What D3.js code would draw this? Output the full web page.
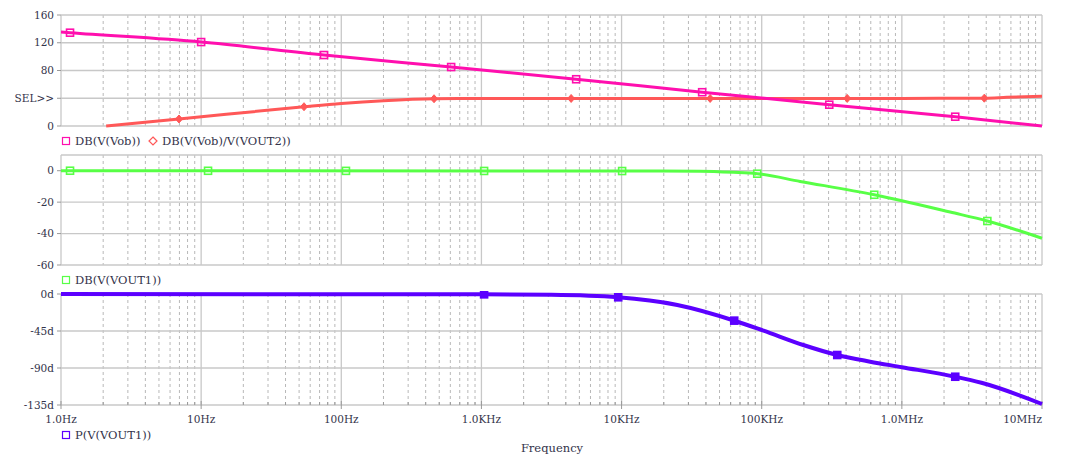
<!DOCTYPE html>
<html><head><meta charset="utf-8">
<script src="https://cdn.jsdelivr.net/npm/d3@7"></script>
<style>
html,body{margin:0;padding:0;background:#fff;}
svg text{font-family:"DejaVu Serif","Times New Roman",Times,"Liberation Serif",serif !important;}
</style></head>
<body>
<svg id="chart" width="1080" height="457"></svg>
<script>
// ---- data ----
const freqTicks = [1, 10, 100, 1e3, 1e4, 1e5, 1e6, 1e7];
const freqLabels = ["1.0Hz", "10Hz", "100Hz", "1.0KHz", "10KHz", "100KHz", "1.0MHz", "10MHz"];

const p1Ticks = [0, 40, 80, 120, 160];
const p1Labels = ["0", "SEL>>", "80", "120", "160"];
const p2Ticks = [-60, -40, -20, 0];
const p2Labels = ["-60", "-40", "-20", "0"];
const p3Ticks = [-135, -90, -45, 0];
const p3Labels = ["-135d", "-90d", "-45d", "0d"];

// DB(V(Vob))
const vobFreq = [1, 1.16, 10, 75.3, 608, 4742, 37580, 303400, 2.404e6, 1e7];
const vobDb   = [135.5, 134.5, 121, 102.3, 85, 67.4, 48.7, 30.7, 13.4, 0];
const vobMarkers = [1.16, 10, 75.3, 608, 4742, 37580, 303400, 2.404e6];

// DB(V(Vob)/V(VOUT2))
const ratioFreq = [2.1, 6.95, 54.2, 100, 200, 459, 1000, 1e4, 1e5, 1e6, 3.87e6, 5.6e6, 1e7];
const ratioDb   = [0, 10.1, 27.8, 32.5, 36.5, 39.3, 39.7, 39.7, 39.7, 39.8, 40.1, 41.3, 43];
const ratioMarkers = [6.95, 54.2, 459, 4365, 42850, 407400, 3.873e6];

// DB(V(VOUT1))
const out1Freq = [1, 1e4, 3.64e4, 6.26e4, 9.29e4, 1.88e5, 6.35e5, 1e6, 2.21e6, 4.07e6, 1e7];
const out1Db   = [0, -0.2, -0.3, -1.0, -1.9, -6.8, -15.3, -19.1, -26.3, -32, -43];
const out1Markers = [1.16, 11.2, 108, 1045, 10090, 92900, 635300, 4.074e6];

// P(V(VOUT1))
const phFreq = [1, 1000, 3160, 9460, 25000, 64000, 103000, 198000, 346000, 594000, 1e6, 2.4e6, 3.7e6, 1e7];
const phDeg  = [0, -0.4, -1.0, -4, -13.4, -32.5, -44.6, -62, -74.2, -82.3, -89, -100.6, -108, -133.8];
const phMarkers = [1045, 9462, 63680, 346000, 2.404e6];

const colPink = "#ff0fae", colRed = "#ff5858", colGreen = "#58ff46", colPurple = "#5c00ff";
const textCol = "#33334a";

// ---- layout ----
const svg = d3.select("#chart");
const X0 = 61, X1 = 1042;
const x = d3.scaleLog().domain([1, 1e7]).range([X0, X1]);
const panels = [
  {y: d3.scaleLinear().domain([0, 160]).range([126, 15]), ticks: p1Ticks, labels: p1Labels},
  {y: d3.scaleLinear().domain([-60, 10]).range([265, 155]), ticks: p2Ticks, labels: p2Labels},
  {y: d3.scaleLinear().domain([-135, 0]).range([405, 294]), ticks: p3Ticks, labels: p3Labels}
];

const minor = [];
for (let d = 0; d < 7; d++) for (let m = 2; m <= 9; m++) minor.push(m * Math.pow(10, d));

function txt(sel, size) {
  return sel.attr("fill", textCol).style("font-size", (size || 11.5) + "px");
}

panels.forEach((p, i) => {
  const [yb, yt] = p.y.range();
  const g = svg.append("g");
  svg.append("clipPath").attr("id", "clip" + i).append("rect")
    .attr("x", X0).attr("y", yt - 3).attr("width", X1 - X0 + 2).attr("height", yb - yt + 6);
  g.selectAll(".mn").data(minor).join("line")
    .attr("x1", d => x(d)).attr("x2", d => x(d)).attr("y1", yt).attr("y2", yb)
    .attr("stroke", "#b8b8b8").attr("stroke-dasharray", "3,3").attr("stroke-width", 1);
  g.selectAll(".mj").data(freqTicks).join("line")
    .attr("x1", d => x(d)).attr("x2", d => x(d)).attr("y1", yt).attr("y2", yb)
    .attr("stroke", "#c8c8c8").attr("stroke-width", 1.3);
  const hs = p.y.domain()[1] > p.ticks[p.ticks.length - 1] ? p.ticks.concat([p.y.domain()[1]]) : p.ticks;
  g.selectAll(".hg").data(hs).join("line")
    .attr("x1", X0).attr("x2", X1).attr("y1", d => p.y(d)).attr("y2", d => p.y(d))
    .attr("stroke", "#c8c8c8").attr("stroke-width", 1.3);
  txt(g.selectAll(".yl").data(p.ticks).join("text"), 10.5)
    .attr("x", 54).attr("y", d => p.y(d)).attr("dy", "0.35em").attr("text-anchor", "end")
    .text((d, k) => p.labels[k]);
  g.selectAll(".yt").data(p.ticks).join("line")
    .attr("x1", X0 - 4).attr("x2", X0).attr("y1", d => p.y(d)).attr("y2", d => p.y(d))
    .attr("stroke", "#999");
});

// bottom axis ticks & labels
const yB = 405;
svg.selectAll(".bt").data(minor).join("line")
  .attr("x1", d => x(d)).attr("x2", d => x(d)).attr("y1", yB - 3).attr("y2", yB).attr("stroke", "#999");
svg.selectAll(".bT").data(freqTicks).join("line")
  .attr("x1", d => x(d)).attr("x2", d => x(d)).attr("y1", yB - 4).attr("y2", yB + 4).attr("stroke", "#999");
txt(svg.selectAll(".xl").data(freqTicks).join("text"), 10.5)
  .attr("x", d => x(d)).attr("y", 423)
  .attr("text-anchor", (d, i) => i === freqTicks.length - 1 ? "end" : "middle")
  .text((d, i) => freqLabels[i]);
txt(svg.append("text")).attr("x", 552).attr("y", 452).attr("text-anchor", "middle").text("Frequency");

function interp(fs, vs, f) {
  const lf = Math.log10(f);
  for (let i = 0; i < fs.length - 1; i++) {
    const a = Math.log10(fs[i]), b = Math.log10(fs[i + 1]);
    if (lf >= a && lf <= b) return vs[i] + (vs[i + 1] - vs[i]) * (lf - a) / (b - a);
  }
  return vs[vs.length - 1];
}
function drawSeries(pi, fs, vs, color, w, markers, shape, filled) {
  const p = panels[pi];
  const g = svg.append("g").attr("clip-path", `url(#clip${pi})`);
  const pts = fs.map((f, i) => [f, vs[i]]);
  const line = d3.line().x(d => x(d[0])).y(d => p.y(d[1])).curve(d3.curveMonotoneX);
  g.append("path").attr("d", line(pts)).attr("fill", "none").attr("stroke", color)
    .attr("stroke-width", w).attr("stroke-linejoin", "round");
  const mk = markers.map(f => [f, interp(fs, vs, f)]);
  if (shape === "square") {
    g.selectAll(null).data(mk).join("rect")
      .attr("x", d => x(d[0]) - 3.5).attr("y", d => p.y(d[1]) - 3.5)
      .attr("width", 7).attr("height", 7)
      .attr("fill", filled ? color : "none").attr("stroke", color).attr("stroke-width", 1.6);
  } else {
    g.selectAll(null).data(mk).join("path")
      .attr("d", d => { const cx = x(d[0]), cy = p.y(d[1]); return `M${cx},${cy-4}L${cx+3.5},${cy}L${cx},${cy+4}L${cx-3.5},${cy}Z`; })
      .attr("fill", color).attr("stroke", color).attr("stroke-width", 1);
  }
}
drawSeries(0, ratioFreq, ratioDb, colRed, 3, ratioMarkers, "diamond", true);
drawSeries(0, vobFreq, vobDb, colPink, 3, vobMarkers, "square", false);
drawSeries(1, out1Freq, out1Db, colGreen, 3, out1Markers, "square", false);
drawSeries(2, phFreq, phDeg, colPurple, 4, phMarkers, "square", true);

function legend(xp, yp, color, shape, label) {
  if (shape === "square") {
    svg.append("rect").attr("x", xp - 3.5).attr("y", yp - 3.5).attr("width", 7).attr("height", 7)
      .attr("fill", "none").attr("stroke", color).attr("stroke-width", 1.2);
  } else {
    svg.append("path").attr("d", `M${xp},${yp-4}L${xp+4},${yp}L${xp},${yp+4}L${xp-4},${yp}Z`)
      .attr("fill", "none").attr("stroke", color).attr("stroke-width", 1.2);
  }
  txt(svg.append("text")).attr("x", xp + 9).attr("y", yp).attr("dy", "0.35em").text(label);
}
legend(66, 141, colPink, "square", "DB(V(Vob))");
legend(153, 141, colRed, "diamond", "DB(V(Vob)/V(VOUT2))");
legend(66, 280, colGreen, "square", "DB(V(VOUT1))");
legend(66, 435, colPurple, "square", "P(V(VOUT1))");
</script>
</body></html>
